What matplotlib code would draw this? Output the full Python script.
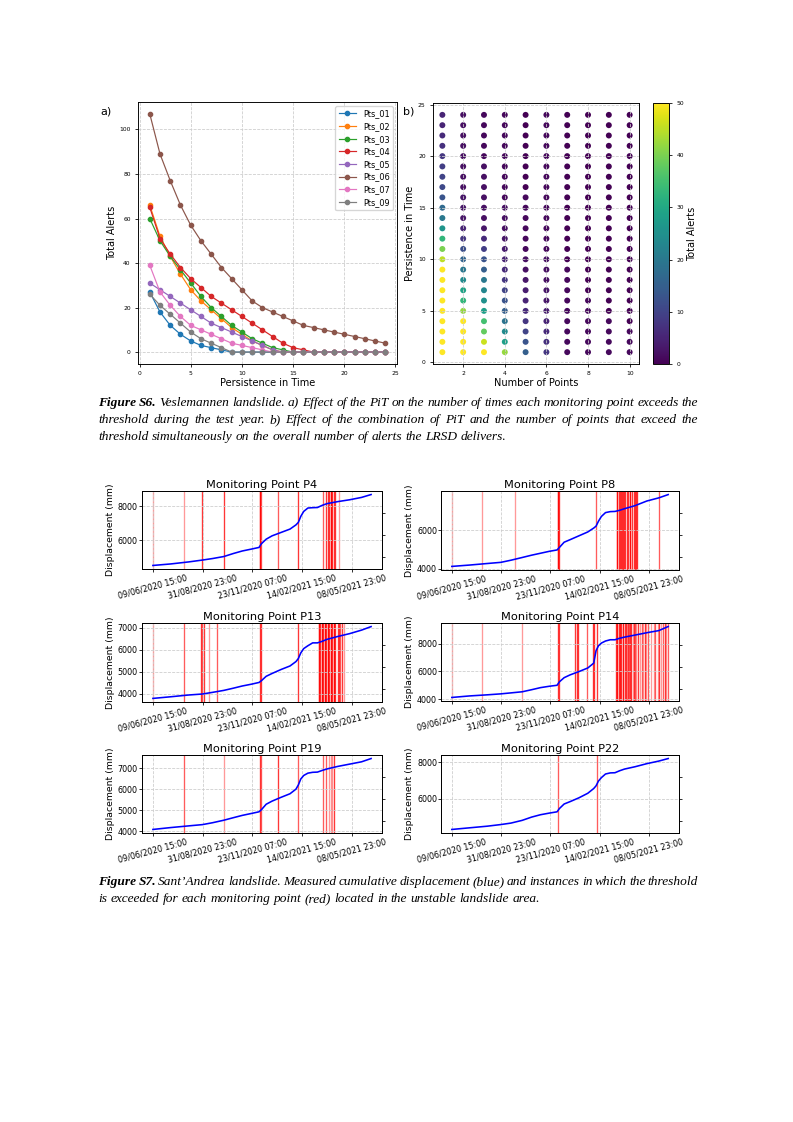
import numpy as np
import pandas as pd
import matplotlib
matplotlib.use('Agg')
import matplotlib.pyplot as plt

W, H = 793, 1122

# ---- Figure S6 a) : alerts vs persistence in time
pit = list(range(1, 25))
pts_names = ["Pts_01", "Pts_02", "Pts_03", "Pts_04", "Pts_05", "Pts_06", "Pts_07", "Pts_09"]
pts_alerts = [
    [27, 18, 12, 8, 5, 3, 2, 1, 0, 0, 0, 0, 0, 0, 0, 0, 0, 0, 0, 0, 0, 0, 0, 0],
    [66, 52, 43, 35, 28, 23, 19, 15, 11, 8, 5, 3, 1, 0, 0, 0, 0, 0, 0, 0, 0, 0, 0, 0],
    [60, 50, 43, 37, 31, 25, 20, 16, 12, 9, 6, 4, 2, 1, 0, 0, 0, 0, 0, 0, 0, 0, 0, 0],
    [65, 51, 44, 38, 33, 29, 25, 22, 19, 16, 13, 10, 7, 4, 2, 1, 0, 0, 0, 0, 0, 0, 0, 0],
    [31, 28, 25, 22, 19, 16, 13, 11, 9, 7, 5, 3, 1, 0, 0, 0, 0, 0, 0, 0, 0, 0, 0, 0],
    [107, 89, 77, 66, 57, 50, 44, 38, 33, 28, 23, 20, 18, 16, 14, 12, 11, 10, 9, 8, 7, 6, 5, 4],
    [39, 27, 21, 16, 12, 10, 8, 6, 4, 3, 2, 1, 0, 0, 0, 0, 0, 0, 0, 0, 0, 0, 0, 0],
    [26, 21, 17, 13, 9, 6, 4, 2, 0, 0, 0, 0, 0, 0, 0, 0, 0, 0, 0, 0, 0, 0, 0, 0],
]

# ---- Figure S6 b) : total alerts by number of points (columns) and PiT (rows 1..24)
n_points = list(range(1, 11))
total_alerts = [
    [60, 58, 56, 55, 54, 53, 52, 51, 50, 45, 40, 33, 26, 20, 17, 13, 11, 10, 9, 8, 7, 6, 5, 5],
    [60, 55, 52, 50, 42, 33, 29, 24, 20, 16, 12, 8, 5, 3, 3, 3, 2, 2, 2, 2, 2, 2, 2, 2],
    [52, 46, 38, 35, 28, 25, 23, 20, 15, 13, 9, 6, 3, 2, 2, 2, 2, 2, 2, 1, 1, 1, 1, 1],
    [42, 28, 24, 19, 15, 13, 10, 8, 6, 5, 4, 3, 2, 2, 2, 1, 1, 1, 1, 1, 1, 1, 1, 1],
    [15, 13, 10, 8, 6, 5, 4, 3, 2, 2, 1, 1, 1, 1, 1, 1, 0, 0, 0, 0, 0, 0, 0, 0],
    [8, 7, 6, 5, 4, 3, 3, 2, 2, 2, 1, 1, 1, 1, 1, 1, 1, 1, 1, 1, 1, 1, 1, 1],
    [1, 1, 1, 1, 1, 1, 1, 1, 1, 0, 0, 0, 0, 0, 0, 0, 0, 0, 0, 0, 0, 0, 0, 0],
    [1, 1, 1, 1, 1, 1, 0, 0, 0, 0, 0, 0, 0, 0, 0, 0, 0, 0, 0, 0, 0, 0, 0, 0],
    [1, 1, 1, 1, 0, 0, 0, 0, 0, 0, 0, 0, 0, 0, 0, 0, 0, 0, 0, 0, 0, 0, 0, 0],
    [1, 1, 1, 0, 0, 0, 0, 0, 0, 0, 0, 0, 0, 0, 0, 0, 0, 0, 0, 0, 0, 0, 0, 0],
]

# ---- Figure S7 : displacement of monitoring points (days since first record)
start = pd.Timestamp("2020-06-09 15:00")
date_ticks = ["09/06/2020 15:00", "31/08/2020 23:00", "23/11/2020 07:00",
              "14/02/2021 15:00", "08/05/2021 23:00"]
days = [0, 30, 60, 83, 100, 119, 135, 150, 165, 178, 182, 190, 200, 215, 230,
        240, 244, 248, 253, 260, 268, 276, 284, 292, 310, 330, 350, 366]
disp = {
    "P4": [4490, 4580, 4700, 4810, 4900, 5020, 5200, 5350, 5460, 5560, 5780, 6050, 6250, 6450, 6650,
           6900, 7050, 7400, 7700, 7900, 7920, 7930, 8060, 8160, 8280, 8390, 8530, 8700],
    "P8": [4120, 4190, 4270, 4330, 4440, 4580, 4700, 4800, 4900, 4970, 5100, 5370, 5500, 5700, 5900,
           6100, 6200, 6450, 6700, 6900, 6950, 6960, 7020, 7100, 7260, 7500, 7660, 7830],
    "P13": [3785, 3860, 3940, 3985, 4060, 4150, 4250, 4350, 4430, 4510, 4590, 4790, 4920, 5100, 5260,
            5460, 5600, 5850, 6050, 6180, 6310, 6310, 6380, 6470, 6600, 6730, 6890, 7050],
    "P14": [4120, 4230, 4310, 4380, 4450, 4530, 4680, 4830, 4930, 5000, 5250, 5550, 5750, 5990, 6250,
            6600, 7500, 7850, 8050, 8200, 8290, 8290, 8400, 8480, 8630, 8800, 8950, 9245],
    "P19": [4080, 4170, 4250, 4310, 4400, 4520, 4640, 4750, 4840, 4920, 5020, 5280, 5430, 5610, 5780,
            6000, 6200, 6480, 6650, 6760, 6800, 6810, 6890, 6960, 7080, 7190, 7300, 7455],
    "P22": [4300, 4390, 4480, 4570, 4650, 4800, 4980, 5110, 5200, 5270, 5450, 5700, 5830, 6040, 6290,
            6550, 6700, 6960, 7150, 7350, 7410, 7420, 7530, 7620, 7750, 7920, 8060, 8200],
}
# threshold exceedances: day and number of overlapping records
alert_days = {
    "P4": [0, 52, 83, 119, 179, 180, 181, 210, 244, 286, 290, 294, 296, 298, 299, 301, 303, 305, 313],
    "P8": [0, 51, 107, 179, 180, 182, 244, 279, 280, 283, 284, 286, 288, 289, 291, 293, 296, 298,
           301, 302, 305, 308, 310, 312, 314, 350],
    "P13": [0, 52, 81, 83, 85, 94, 107, 179, 181, 244, 278, 279, 281, 283, 284, 286, 288, 289, 291,
            293, 294, 296, 298, 299, 301, 303, 304, 306, 310, 312, 314, 317, 321],
    "P14": [0, 51, 118, 179, 181, 209, 211, 213, 228, 238, 241, 245, 277, 279, 280, 282, 284, 285,
            287, 289, 290, 293, 294, 296, 298, 300, 302, 303, 306, 308, 310, 312, 315, 318, 321, 323,
            326, 329, 332, 337, 342, 344, 348, 351, 354, 357, 360, 362, 365],
    "P19": [52, 119, 180, 182, 210, 244, 286, 290, 296, 298, 300, 304],
    "P22": [179, 246],
}
alert_counts = {
    "P4": [1, 1, 3, 3, 3, 3, 2, 2, 3, 2, 3, 3, 3, 3, 3, 3, 3, 3, 1],
    "P8": [1, 1, 1, 3, 3, 3, 2, 3, 3, 3, 3, 3, 3, 3, 3, 3, 3, 3, 3, 3, 3, 3, 3, 3, 3, 2],
    "P13": [1, 2, 3, 2, 3, 1, 2, 3, 3, 3, 3, 3, 3, 3, 3, 3, 3, 3, 3, 3, 3, 3, 3, 3, 3, 3, 3, 3,
            3, 3, 2, 3, 1],
    "P14": [1, 1, 1, 3, 3, 3, 3, 3, 2, 3, 3, 3, 3, 3, 2, 3, 3, 1, 3, 3, 2, 3, 3, 1, 3, 2, 3, 3,
            1, 3, 2, 1, 3, 1, 2, 1, 3, 1, 2, 1, 1, 2, 1, 3, 1, 2, 3, 1, 2],
    "P19": [2, 1, 3, 2, 3, 2, 2, 2, 1, 1, 1, 3],
    "P22": [2, 2],
}
yticks = {"P4": [6000, 8000], "P8": [4000, 6000], "P13": [4000, 5000, 6000, 7000],
          "P14": [4000, 6000, 8000], "P19": [4000, 5000, 6000, 7000], "P22": [6000, 8000]}

fig = plt.figure(figsize=(W / 96, H / 96), dpi=96)


def add_ax(l, t, r, b):
    return fig.add_axes([l / W, 1 - b / H, (r - l) / W, (b - t) / H])


grid_kw = dict(ls="--", color="#cccccc", lw=0.6)

# panel a
ax = add_ax(138, 102, 397, 364)
for name, vals in zip(pts_names, pts_alerts):
    ax.plot(pit, vals, marker="o", ms=3.2, lw=0.9, label=name)
ax.set_xticks([0, 5, 10, 15, 20, 25])
ax.set_yticks([0, 20, 40, 60, 80, 100])
ax.tick_params(labelsize=4.5, length=2, width=0.6)
ax.set_xlabel("Persistence in Time", fontsize=7.3, labelpad=1)
ax.set_ylabel("Total Alerts", fontsize=7.3, labelpad=2)
ax.grid(True, **grid_kw)
ax.legend(fontsize=6.1, loc="upper right", handlelength=2.2, borderpad=0.4, labelspacing=0.45)
for s in ax.spines.values():
    s.set_linewidth(0.7)
fig.text(100 / W, 1 - 112 / H, "a)", fontsize=8.3, va="center")

# panel b
axb = add_ax(433, 103, 639, 364)
xs, ys, cs = [], [], []
for npt, col in zip(n_points, total_alerts):
    for p, v in zip(pit, col):
        xs.append(npt)
        ys.append(p)
        cs.append(v)
sc = axb.scatter(xs, ys, c=cs, cmap="viridis", vmin=0, vmax=50, s=20, linewidths=0)
axb.set_xticks([2, 4, 6, 8, 10])
axb.set_yticks([0, 5, 10, 15, 20, 25])
axb.tick_params(labelsize=4.5, length=2, width=0.6)
axb.set_xlabel("Number of Points", fontsize=7.3, labelpad=1)
axb.set_ylabel("Persistence in Time", fontsize=7.3, labelpad=2)
axb.grid(True, **grid_kw)
for s in axb.spines.values():
    s.set_linewidth(0.7)
fig.text(403 / W, 1 - 112 / H, "b)", fontsize=8.3, va="center")
cax = add_ax(653, 103, 669, 364)
cb = fig.colorbar(sc, cax=cax)
cb.set_ticks([0, 10, 20, 30, 40, 50])
cb.ax.tick_params(labelsize=4.5, length=2, width=0.6)
cb.set_label("Total Alerts", fontsize=7.3, labelpad=2)
cb.outline.set_linewidth(0.7)

# Figure S7 panels
tick_pos = pd.to_datetime(date_ticks, format="%d/%m/%Y %H:%M")
time = start + pd.to_timedelta(days, unit="D")
boxes = {"P4": (142, 491, 382, 569), "P8": (441, 491, 679, 570),
         "P13": (142, 623, 382, 702), "P14": (441, 623, 679, 701),
         "P19": (142, 755, 382, 833), "P22": (441, 755, 679, 833)}
for name, box in boxes.items():
    a = add_ax(*box)
    for d, n in zip(alert_days[name], alert_counts[name]):
        a.axvline(start + pd.Timedelta(days=d), color="red", lw=1.0,
                  alpha=1 - 0.6 ** n, zorder=1)
    a.plot(time, disp[name], color="blue", lw=1.2, zorder=3)
    a.set_xticks(tick_pos, date_ticks)
    a.set_yticks(yticks[name])
    a.tick_params(axis="x", labelsize=6, rotation=15, length=2, width=0.6, pad=1)
    a.tick_params(axis="y", labelsize=6, length=2, width=0.6, pad=1)
    a.grid(True, **grid_kw)
    a.set_title(f"Monitoring Point {name}", fontsize=8.5, pad=2)
    a.set_ylabel("Displacement (mm)", fontsize=7, labelpad=2)
    for s in a.spines.values():
        s.set_linewidth(0.7)
    a2 = a.twinx()
    a2.set_ylim(0, 1)
    a2.set_yticks([0.16, 0.44, 0.72])
    a2.tick_params(labelright=False, length=2, width=0.6)
    for s in a2.spines.values():
        s.set_linewidth(0.7)

# captions (justified like the document)
renderer = fig.canvas.get_renderer()


def caption_line(parts, y, x0=98, x1=698, size=10, last=False):
    arts, widths = [], []
    for txt, weight in parts:
        for w in txt.split():
            t = fig.text(0, 1 - y / H, w, fontsize=size, family="Liberation Serif",
                         style="italic", weight=weight, va="center", ha="left")
            arts.append(t)
            widths.append(t.get_window_extent(renderer=renderer).width)
    space = size * 96 / 72 * 0.25
    gap = space if last else (x1 - x0 - sum(widths)) / (len(arts) - 1)
    x = x0
    for t, w in zip(arts, widths):
        t.set_x(x / W)
        x += w + gap


caption_line([("Figure S6.", "bold"), ("Veslemannen landslide. a) Effect of the PiT on the number "
              "of times each monitoring point exceeds the", "normal")], 403)
caption_line([("threshold during the test year. b) Effect of the combination of PiT and the number "
               "of points that exceed the", "normal")], 420)
caption_line([("threshold simultaneously on the overall number of alerts the LRSD delivers.",
               "normal")], 437, last=True)
caption_line([("Figure S7.", "bold"), ("Sant\u2019Andrea landslide. Measured cumulative displacement "
              "(blue) and instances in which the threshold", "normal")], 882)
caption_line([("is exceeded for each monitoring point (red) located in the unstable landslide area.",
               "normal")], 899, last=True)

fig.savefig("out.png", dpi=96)
